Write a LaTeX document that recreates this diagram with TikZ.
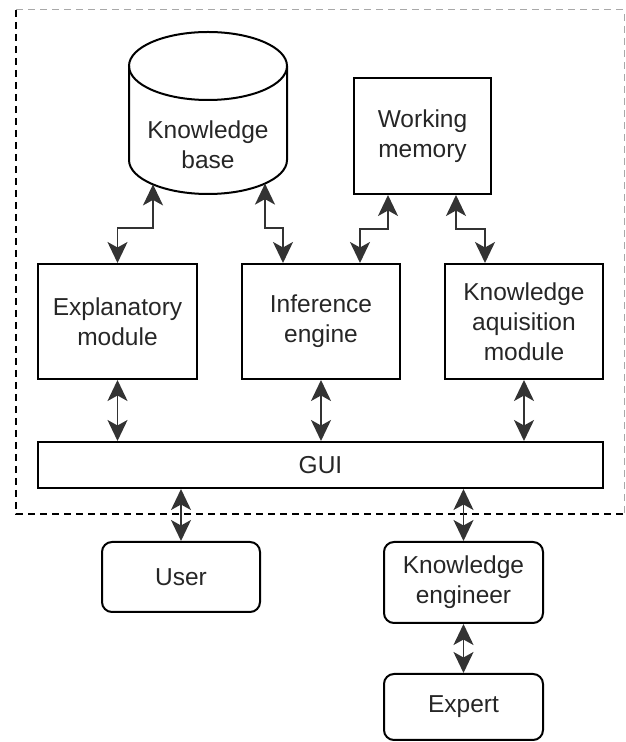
\documentclass[tikz,border=0pt]{standalone}
\usepackage{fontspec}
\setmainfont{Liberation Sans}
\usetikzlibrary{arrows.meta,calc}
\definecolor{linegray}{HTML}{333333}
\definecolor{txtgray}{HTML}{262626}
\definecolor{bordergray}{HTML}{A8A8A8}
\tikzset{
  box/.style={draw=black, line width=2pt, rectangle, inner sep=0pt, align=center,
    font=\fontsize{24.5}{30}\selectfont, text=txtgray},
  rbox/.style={box, rounded corners=10pt},
  lbl/.style={inner sep=0pt, align=center, font=\fontsize{24.5}{30}\selectfont, text=txtgray},
  headtip/.tip={Stealth[length=21pt,width=20pt,inset=5.5pt]},
  dbl/.style={draw=linegray, line width=1.8pt, {headtip}-{headtip}},
}
\begin{document}
\begin{tikzpicture}[x=1pt,y=1pt]
\useasboundingbox (0,0) rectangle (625,742);
% system boundary
\draw[bordergray, line width=1pt, dash pattern=on 7pt off 5pt] (16,732) -- (624,732) -- (624,228);
\draw[black, line width=1.6pt, dash pattern=on 7pt off 5pt] (16,732) -- (16,228) -- (624,228);
% knowledge base cylinder
\draw[black, line width=2pt, fill=white] (129,676) -- (129,582) arc[start angle=180, end angle=360, x radius=79, y radius=34] -- (287,676);
\draw[black, line width=2pt] (208,676) ellipse[x radius=79, y radius=34];
\node[lbl] (kb) at (208,597) {Knowledge\\base};
\coordinate (kbl) at (153,557.6);
\coordinate (kbr) at (265,558.4);
% boxes
\node[box, minimum width=137pt, minimum height=116pt] (wm) at (422.5,606) {Working\\memory};
\node[box, minimum width=159pt, minimum height=115pt] (em) at (117.5,420.5) {Explanatory\\module};
\node[box, minimum width=158pt, minimum height=115pt] (ie) at (321,420.5) {Inference\\engine};
\node[box, minimum width=158pt, minimum height=115pt] (kam) at (524,420.5) {Knowledge\\aquisition\\module};
\node[box, minimum width=565pt, minimum height=46pt] (gui) at (320.5,277) {GUI};
\node[rbox, minimum width=158pt, minimum height=70pt] (user) at (181,165) {User};
\node[rbox, minimum width=159pt, minimum height=81pt] (ke) at (463.5,159.5) {Knowledge\\engineer};
\node[rbox, minimum width=159pt, minimum height=66pt] (expert) at (463.5,35) {Expert};
% connectors
\draw[dbl] (kbl) -- ++(0,-43.6) -| (em.north);
\draw[dbl] (kbr) -- ++(0,-44.4) -| ($(ie.north)+(-38,0)$);
\draw[dbl] ($(wm.south)+(-34.5,0)$) -- ++(0,-34) -| ($(ie.north)+(39,0)$);
\draw[dbl] ($(wm.south)+(33.5,0)$) -- ++(0,-34) -| ($(kam.north)+(-39,0)$);
\draw[dbl] (em.south) -- (em.south |- gui.north);
\draw[dbl] (ie.south) -- (ie.south |- gui.north);
\draw[dbl] (kam.south) -- (kam.south |- gui.north);
\draw[dbl] (gui.south -| user.north) -- (user.north);
\draw[dbl] (gui.south -| ke.north) -- (ke.north);
\draw[dbl] (ke.south) -- (expert.north);
\end{tikzpicture}
\end{document}
